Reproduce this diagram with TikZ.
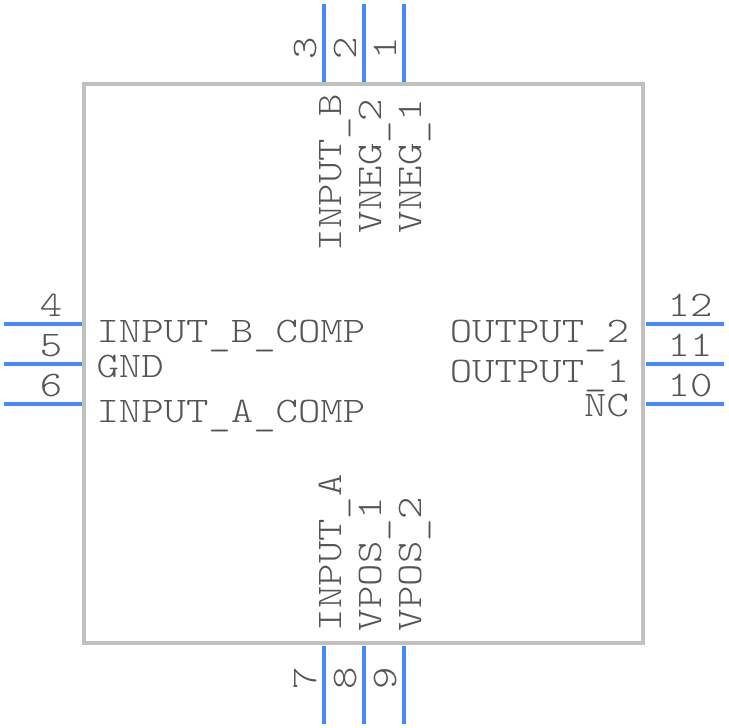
\documentclass[tikz,border=0pt]{standalone}
\usepackage{fontspec}
\setmonofont{Latin Modern Mono Light}[FakeStretch=1.185]
\definecolor{pinblue}{RGB}{70,136,255}
\definecolor{boxgray}{RGB}{192,192,192}
\definecolor{txtgray}{RGB}{85,85,85}
\newcommand{\lowus}{\raisebox{-3pt}{\_}}
\tikzset{
  pkg/.style={draw=boxgray,line width=4pt,minimum width=559pt,minimum height=559pt,inner sep=0pt,outer sep=0pt},
  pinline/.style={draw=pinblue,line width=4pt},
  lbl/.style={inner sep=0pt,outer sep=0pt,text=txtgray,font=\fontsize{36}{36}\selectfont\ttfamily},
  lblw/.style={lbl,anchor=base west},
  lble/.style={lbl,anchor=base east},
  lblv/.style={lbl,anchor=base west,rotate=90},
  numh/.style={lbl,anchor=base},
  numv/.style={lbl,anchor=base,rotate=90},
}
\begin{document}
\begin{tikzpicture}[x=1pt,y=-1pt]
\useasboundingbox (0,0) rectangle (728,728);
\node[pkg] (chip) at (363.5,363.5) {};
\foreach \n/\x in {p3/323.5,p2/363.5,p1/403.5}{
  \coordinate (\n o) at (\x,4);
  \coordinate (\n i) at (\x,82);
  \draw[pinline] (\n o) -- (\n i);
}
\foreach \n/\x in {p7/323.5,p8/363.5,p9/403.5}{
  \coordinate (\n o) at (\x,724);
  \coordinate (\n i) at (\x,646);
  \draw[pinline] (\n o) -- (\n i);
}
\foreach \n/\y in {p4/323.5,p5/363.5,p6/403.5}{
  \coordinate (\n o) at (4,\y);
  \coordinate (\n i) at (82,\y);
  \draw[pinline] (\n o) -- (\n i);
}
\foreach \n/\y in {p12/323.5,p11/363.5,p10/403.5}{
  \coordinate (\n o) at (724,\y);
  \coordinate (\n i) at (646,\y);
  \draw[pinline] (\n o) -- (\n i);
}
% pin numbers
\node[numv] (n3) at (316,48) {3};
\node[numv] (n2) at (356,48) {2};
\node[numv] (n1) at (396,48) {1};
\node[numv] (n7) at (316,678) {7};
\node[numv] (n8) at (356,678) {8};
\node[numv] (n9) at (396,678) {9};
\node[numh] (n4) at (51,316) {4};
\node[numh] (n5) at (51,356) {5};
\node[numh] (n6) at (51,396) {6};
\node[numh] (n12) at (690,316) {12};
\node[numh] (n11) at (690,356) {11};
\node[numh] (n10) at (690,396) {10};
% signal names
\node[lblw] (l4) at (96.5,342) {INPUT\lowus B\lowus COMP};
\node[lblw] (l5) at (96.5,377) {GND};
\node[lblw] (l6) at (96.5,422) {INPUT\lowus A\lowus COMP};
\node[lble] (l12) at (629,342) {OUTPUT\lowus 2};
\node[lble] (l11) at (629,382) {OUTPUT\lowus 1};
\node[lble] (l10) at (629,416) {NC};
\node[lblv] (l3) at (341,251) {INPUT\lowus B};
\node[lblv] (l2) at (381,233) {VNEG\lowus 2};
\node[lblv] (l1) at (421,233) {VNEG\lowus 1};
\node[lblv] (l7) at (341,631) {INPUT\lowus A};
\node[lblv] (l8) at (381,631) {VPOS\lowus 1};
\node[lblv] (l9) at (421,631) {VPOS\lowus 2};
\end{tikzpicture}
\end{document}
